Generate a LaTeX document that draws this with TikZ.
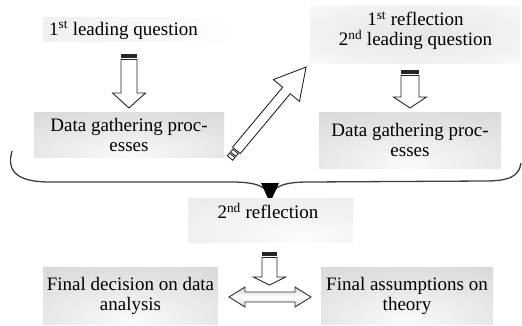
\documentclass[tikz,border=0pt]{standalone}
\usepackage{fontspec}
\setmainfont{Liberation Serif}
\pgfdeclareradialshading{boxshade}{\pgfpoint{0bp}{-22bp}}{color(0bp)=(gray!4); color(30bp)=(gray!22); color(60bp)=(gray!38); color(100bp)=(gray!38)}
\pgfdeclareradialshading{glowshade}{\pgfpoint{0bp}{0bp}}{color(0bp)=(gray!20); color(25bp)=(gray!10); color(45bp)=(white); color(100bp)=(white)}
\pgfdeclareradialshading{softshade}{\pgfpoint{10bp}{-20bp}}{color(0bp)=(gray!3); color(40bp)=(gray!14); color(70bp)=(gray!22); color(100bp)=(gray!22)}
\newcommand\blockarrow[7]{%
  \begin{scope}[shift={(#1,#2)},rotate=#3]
    \fill[black!85] (-0.5,{-#5-0.45}) rectangle (3.5,{#5+0.45});
    \draw[aline,fill=white] (5.5,{-#5}) -- ({#4-#7},{-#5}) -- ({#4-#7},{-#6}) -- (#4,0) -- ({#4-#7},#6) -- ({#4-#7},#5) -- (5.5,#5) -- cycle;
  \end{scope}}
\begin{document}
\begin{tikzpicture}[x=1pt,y=-1pt,font=\fontsize{19}{20}\selectfont,
  gbox/.style={shade,shading=boxshade,draw=none,inner sep=0pt,align=center},
  aline/.style={draw=black!85,line width=0.9pt,line join=miter}]
\useasboundingbox (0,0) rectangle (522,325);
% faint background boxes
\shade[left color=gray!12,right color=gray!1] (43,17) rectangle (226,41);
\shade[shading=glowshade] (310,5) rectangle (520,63);
% text of top boxes
\node[anchor=base,inner sep=0pt] (q1) at (123.5,35) {1\textsuperscript{st} leading question};
\node[align=center,inner sep=0pt] (r1) at (415.5,31) {1\textsuperscript{st} reflection\\2\textsuperscript{nd} leading question};
% data gathering boxes
\node[gbox,minimum width=190,minimum height=45] (dg1) at (129,134.5) {Data gathering proc-\\esses};
\node[gbox,minimum width=182,minimum height=56] (dg2) at (410,140) {Data gathering proc-\\esses};
% vertical striped arrows
\blockarrow{129}{54}{-90}{54}{8}{16.5}{15}
\blockarrow{410}{70}{-90}{38}{9}{16.5}{11}
% diagonal striped arrow
\begin{scope}[shift={(230,158)},rotate=50.1]
  \draw[aline,fill=white] (0,-3.5) rectangle (3.5,3.5);
  \draw[aline,fill=white] (5,-3.5) rectangle (8.5,3.5);
  \draw[aline,fill=white] (10,-5) -- (88,-5) -- (88,-17) -- (118.6,0) -- (88,17) -- (88,5) -- (10,5) -- cycle;
\end{scope}
% brace
\draw[line width=1.3pt,black!75] (12,151) .. controls (6,172) and (18,182) .. (50,182) -- (232,182)
  .. controls (255,182) and (266,186) .. (270,196)
  .. controls (274,186) and (285,182) .. (308,182) -- (485,181)
  .. controls (510,181) and (519,176) .. (521,163);
\fill[black] (261,183) -- (279,183) -- (270,203) -- cycle;
% second reflection
\node[shade,shading=softshade,minimum width=165,minimum height=44,inner sep=0pt] (r2box) at (270.5,220) {};
\node[inner sep=0pt] (r2) at (268,211) {2\textsuperscript{nd} reflection};
\blockarrow{269.5}{252}{-90}{33}{7.5}{16}{8}
% final boxes
\node[gbox,minimum width=175,minimum height=57] (fd) at (130.5,295.5) {Final decision on data\\analysis};
\node[gbox,minimum width=172,minimum height=57] (fa) at (407,295.5) {Final assumptions on\\theory};
% double arrow
\shade[top color=gray!35,bottom color=gray!35,middle color=white,draw=black!80,line width=0.9pt]
  (229,297) -- (245,287) -- (245,292) -- (295,292) -- (295,287) -- (311,297) -- (295,307) -- (295,302) -- (245,302) -- (245,307) -- cycle;
\end{tikzpicture}
\end{document}
